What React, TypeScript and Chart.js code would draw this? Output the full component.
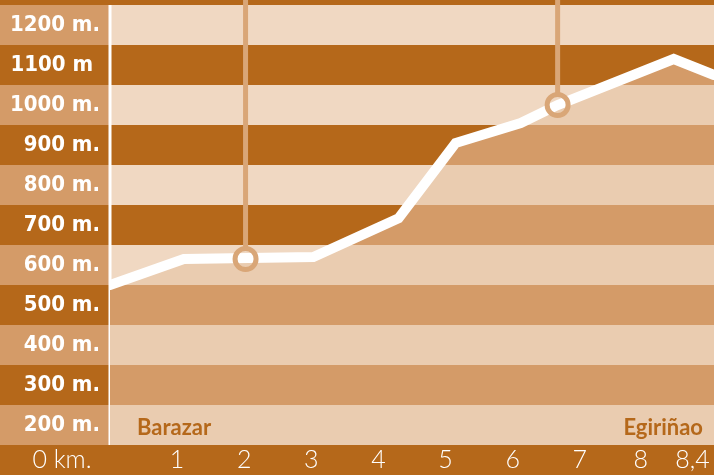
import React, { useEffect, useRef } from 'react';
import { Chart, registerables } from 'chart.js';

Chart.register(...registerables);

// ---- data ----
const distanceKm = [0, 1.1, 3.03, 4.3, 5.15, 6.12, 6.67, 8.4, 9.0];
const elevationM = [550, 615, 620, 717, 905, 955, 1000, 1115, 1075];
const markerKm = [2.02, 6.67];
const markerElev = [615, 1000];
const yTickValues = [200, 300, 400, 500, 600, 700, 800, 900, 1000, 1100, 1200];
const yTickLabels = ['200 m.', '300 m.', '400 m.', '500 m.', '600 m.', '700 m.', '800 m.', '900 m.', '1000 m.', '1100 m ', '1200 m.'];
const xTickValues = [1, 2, 3, 4, 5, 6, 7, 8, 8.4];
const xTickLabels = ['1', '2', '3', '4', '5', '6', '7', '8\u2002', '\u2002\u2002\u20028,4'];
const xStartLabel = '0 km.';
const placeNames = ['Barazar', 'Egiriñao'];
const bandCenters = [200, 300, 400, 500, 600, 700, 800, 900, 1000, 1100, 1200, 1300];

// ---- styles ----
const W = 714;
const H = 475;
const DARK = '#b5681a';
const LIGHT_ABOVE = '#f0d8c2';
const LIGHT_BELOW = '#eaccb0';
const DARK_BELOW = '#d49b68';
const COLUMN_LIGHT = '#d49b68';
const STEM = '#d9a677';
const X_FONT = { family: 'Lato, "Open Sans", sans-serif', size: 25, weight: '300' as any };
const Y_FONT = { family: '"DejaVu Sans Condensed", "Liberation Sans Narrow", "DejaVu Sans", sans-serif', size: 22, weight: 'bold' as const };

const isDark = (v: number) => Math.round(v / 100) % 2 === 1;

const bandsPlugin = {
  id: 'bands',
  beforeDraw(chart: any) {
    const { ctx, chartArea: a, scales } = chart;
    const y = scales.y;
    ctx.save();
    ctx.fillStyle = DARK;
    ctx.fillRect(0, a.bottom, chart.width, chart.height - a.bottom);
    bandCenters.forEach((v) => {
      const top = Math.max(y.getPixelForValue(v + 50), a.top);
      const bot = Math.min(y.getPixelForValue(v - 50), a.bottom);
      if (bot <= top) return;
      ctx.fillStyle = isDark(v) ? DARK : COLUMN_LIGHT;
      ctx.fillRect(0, top, a.left, bot - top);
      ctx.fillStyle = isDark(v) ? DARK : LIGHT_ABOVE;
      ctx.fillRect(a.left, top, a.right - a.left, bot - top);
    });
    // white separator
    ctx.fillStyle = '#ffffff';
    const sepTop = y.getPixelForValue(1250);
    ctx.fillRect(a.left - 1.5, sepTop, 3, a.bottom - sepTop);
    ctx.restore();
  },
  beforeDatasetsDraw(chart: any) {
    const { ctx, chartArea: a, scales } = chart;
    const y = scales.y;
    const line = chart.getDatasetMeta(1).data;
    ctx.save();
    ctx.beginPath();
    ctx.rect(a.left, a.top, a.right - a.left, a.bottom - a.top);
    ctx.clip();
    ctx.beginPath();
    ctx.moveTo(line[0].x, a.bottom);
    line.forEach((p: any) => ctx.lineTo(p.x, p.y));
    ctx.lineTo(line[line.length - 1].x, a.bottom);
    ctx.closePath();
    ctx.clip();
    bandCenters.forEach((v) => {
      const top = Math.max(y.getPixelForValue(v + 50), a.top);
      const bot = Math.min(y.getPixelForValue(v - 50), a.bottom);
      if (bot <= top) return;
      ctx.fillStyle = isDark(v) ? DARK_BELOW : LIGHT_BELOW;
      ctx.fillRect(a.left, top, a.right - a.left, bot - top);
    });
    ctx.restore();

    // place names
    ctx.save();
    ctx.fillStyle = DARK;
    ctx.font = 'bold 22px Lato, "Open Sans", sans-serif';
    ctx.textBaseline = 'alphabetic';
    const baseY = a.bottom - 10;
    ctx.textAlign = 'left';
    ctx.fillText(placeNames[0], a.left + 27, baseY);
    ctx.textAlign = 'right';
    ctx.fillText(placeNames[1], a.right - 11, baseY);
    ctx.restore();

    // marker stems
    const markers = chart.getDatasetMeta(0).data;
    ctx.save();
    ctx.fillStyle = STEM;
    markers.forEach((p: any) => {
      const r = 10.5;
      ctx.fillRect(p.x - 2.5, 0, 5, p.y - r);
    });
    ctx.restore();

    // start label of x axis, in the label column
    const xs = scales.x;
    ctx.save();
    ctx.fillStyle = '#ffffff';
    ctx.font = `${X_FONT.weight} ${X_FONT.size}px ${X_FONT.family}`;
    ctx.textAlign = 'center';
    ctx.textBaseline = 'middle';
    ctx.fillText(xStartLabel, a.left / 2 + 7, xs.top + (X_FONT.size * 1.2) / 2);
    ctx.restore();
  },
};

export default function App() {
  const ref = useRef<HTMLCanvasElement>(null);
  useEffect(() => {
    document.body.style.margin = '0';
    document.body.style.overflow = 'hidden';
    if (!ref.current) return;
    const chart = new Chart(ref.current, {
      type: 'line',
      data: {
        datasets: [
          {
            type: 'scatter',
            data: markerKm.map((k, i) => ({ x: k, y: markerElev[i] })),
            pointRadius: 10.5,
            pointBorderWidth: 5,
            pointBorderColor: STEM,
            pointBackgroundColor: 'rgba(0,0,0,0)',
            showLine: false,
            order: 0,
          } as any,
          {
            data: distanceKm.map((k, i) => ({ x: k, y: elevationM[i] })),
            borderColor: '#ffffff',
            borderWidth: 10,
            pointRadius: 0,
            tension: 0,
            borderCapStyle: 'round',
            borderJoinStyle: 'miter',
            fill: false,
            order: 1,
          },
        ],
      },
      options: {
        animation: false,
        responsive: false,
        maintainAspectRatio: false,
        devicePixelRatio: 1,
        layout: { padding: 0, autoPadding: false },
        plugins: { legend: { display: false }, tooltip: { enabled: false } },
        events: [],
        scales: {
          x: {
            type: 'linear',
            min: 0,
            max: 9,
            grid: { display: false, drawTicks: false },
            border: { display: false },
            afterBuildTicks: (s: any) => {
              s.ticks = xTickValues.map((v) => ({ value: v }));
            },
            afterFit: (s: any) => {
              s.height = 30;
              s.paddingLeft = 0;
              s.paddingRight = 0;
              s.paddingTop = 0;
              s.paddingBottom = 0;
            },
            ticks: {
              color: '#ffffff',
              font: X_FONT,
              padding: 0,
              maxRotation: 0,
              autoSkip: false,
              callback: (v: any) => xTickLabels[xTickValues.indexOf(Number(v))] ?? '',
            },
          },
          y: {
            type: 'linear',
            min: 150,
            max: 1262.5,
            grid: { display: false, drawTicks: false },
            border: { display: false },
            afterBuildTicks: (s: any) => {
              s.ticks = yTickValues.map((v) => ({ value: v }));
            },
            afterFit: (s: any) => {
              s.width = 110;
              s.paddingLeft = 0;
              s.paddingRight = 0;
              s.paddingTop = 0;
              s.paddingBottom = 0;
            },
            ticks: {
              color: '#ffffff',
              font: Y_FONT,
              padding: 10,
              autoSkip: false,
              callback: (v: any) => yTickLabels[yTickValues.indexOf(Number(v))] ?? '',
            },
          },
        },
      },
      plugins: [bandsPlugin],
    });
    return () => chart.destroy();
  }, []);
  return (
    <div style={{ position: 'absolute', left: 0, top: 0, width: W, height: H, overflow: 'hidden' }}>
      <canvas ref={ref} width={W} height={H} style={{ display: 'block', width: W, height: H }} />
    </div>
  );
}
